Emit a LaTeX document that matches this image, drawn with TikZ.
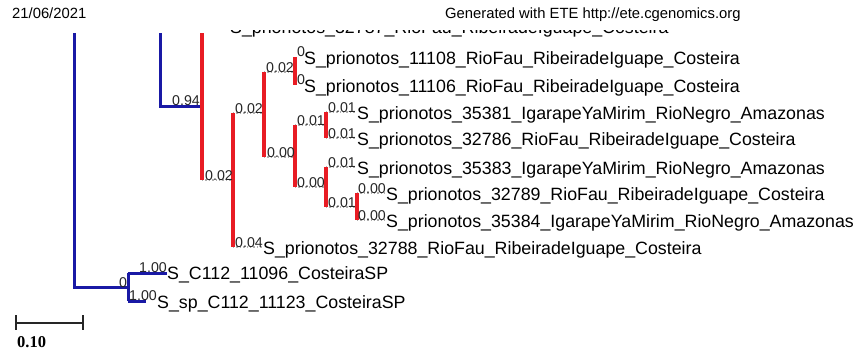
\documentclass[tikz,border=0pt]{standalone}
\usepackage{fontspec}
\setmainfont{Liberation Sans}
\newfontfamily\barfont{Liberation Serif}
\definecolor{navyline}{RGB}{25,25,165}
\definecolor{redline}{RGB}{232,28,36}
\definecolor{dotgray}{RGB}{175,175,175}
\begin{document}
\begin{tikzpicture}[x=1pt,y=-1pt,
  bluebranch/.style={draw=navyline,line width=3pt},
  redbranch/.style={draw=redline,line width=3.5pt},
  dotbranch/.style={draw=dotgray,dotted,line width=1.4pt},
  leaf/.style={anchor=base west,inner sep=0pt,font=\fontsize{17.8}{18}\selectfont},
  supp/.style={anchor=base west,inner sep=0pt,text=black!85,font=\fontsize{14.2}{14}\selectfont},
  head/.style={anchor=base west,inner sep=0pt,font=\fontsize{14.8}{15}\selectfont},
  scaleline/.style={draw=black!85,line width=2pt}]
\useasboundingbox (0,0) rectangle (857,356);

\node[head] (date) at (12,19) {21/06/2021};
\node[head] (gen) at (445,18) {Generated with ETE http://ete.cgenomics.org};

\begin{scope}
\clip (0,30.5) rectangle (857,356);
\node[leaf,text height=3pt] (leaf0) at (230,33) {S\_prionotos\_32787\_RioFau\_RibeiradeIguape\_Costeira};
\end{scope}

\coordinate (top74) at (74,33);
\coordinate (root) at (74,287);
\coordinate (c128) at (128,287);
\coordinate (u128) at (128,273);
\coordinate (d128) at (128,301);
\coordinate (tip9) at (167,273);
\coordinate (tip10) at (146,301);
\coordinate (top160) at (160,33);
\coordinate (a160) at (160,106);
\coordinate (a202) at (202,106);
\coordinate (top202) at (202,33);
\coordinate (b202) at (202,180);
\coordinate (m233) at (233,180);
\coordinate (u233) at (233,113);
\coordinate (d233) at (233,247);
\coordinate (tip8) at (262,247);
\coordinate (m264) at (264,113);
\coordinate (u264) at (264,72);
\coordinate (d264) at (264,157);
\coordinate (m295a) at (295,72);
\coordinate (m295b) at (295,157);
\coordinate (u295a) at (295,57);
\coordinate (d295a) at (295,85);
\coordinate (u295b) at (295,125);
\coordinate (d295b) at (295,187);
\coordinate (m326a) at (326,125);
\coordinate (m326b) at (326,187);
\coordinate (u326a) at (326,112);
\coordinate (d326a) at (326,138);
\coordinate (tip3) at (356,112);
\coordinate (tip4) at (356,138);
\coordinate (u326b) at (326,167);
\coordinate (d326b) at (326,207);
\coordinate (tip5) at (356,167);
\coordinate (m357) at (357,207);
\coordinate (u357) at (357,193);
\coordinate (d357) at (357,220);
\coordinate (tip6) at (385,193);
\coordinate (tip7) at (385,220);

\draw[dotbranch] (b202) -- (m233);
\draw[dotbranch] (u233) -- (m264);
\draw[dotbranch] (d233) -- (tip8);
\draw[dotbranch] (u264) -- (m295a);
\draw[dotbranch] (d264) -- (m295b);
\draw[dotbranch] (u295b) -- (m326a);
\draw[dotbranch] (d295b) -- (m326b);
\draw[dotbranch] (u326a) -- (tip3);
\draw[dotbranch] (d326a) -- (tip4);
\draw[dotbranch] (u326b) -- (tip5);
\draw[dotbranch] (d326b) -- (m357);
\draw[dotbranch] (u357) -- (tip6);
\draw[dotbranch] (d357) -- (tip7);

\draw[bluebranch] (top74) -- (root) -- (c128);
\draw[bluebranch] (u128) -- (d128);
\draw[bluebranch] (u128) -- (tip9);
\draw[bluebranch] (d128) -- (tip10);
\draw[bluebranch] (top160) -- (a160) -- (a202);

\draw[redbranch] (top202) -- (b202);
\draw[redbranch] (u233) -- (d233);
\draw[redbranch] (u264) -- (d264);
\draw[redbranch] (u295a) -- (d295a);
\draw[redbranch] (u295b) -- (d295b);
\draw[redbranch] (u326a) -- (d326a);
\draw[redbranch] (u326b) -- (d326b);
\draw[redbranch] (u357) -- (d357);

\node[supp] (s94) at (172,105) {0.94};
\node[supp] (sroot) at (119,287) {0};
\node[supp] (s9) at (139,272) {1.00};
\node[supp] (s10) at (129,300) {1.00};
\node[supp] (sb202) at (205,180) {0.02};
\node[supp] (su233) at (235,113) {0.02};
\node[supp] (sd233) at (235,247) {0.04};
\node[supp] (su264) at (266,72) {0.02};
\node[supp] (sd264) at (267,157) {0.00};
\node[supp] (s1) at (297,56) {0};
\node[supp] (s2) at (297,84) {0};
\node[supp] (su295) at (297,125) {0.01};
\node[supp] (sd295) at (297,187) {0.00};
\node[supp] (s3) at (328,112) {0.01};
\node[supp] (s4) at (328,138) {0.01};
\node[supp] (s5) at (328,167) {0.01};
\node[supp] (sd326) at (328,207) {0.01};
\node[supp] (s6) at (358,193) {0.00};
\node[supp] (s7) at (358,220) {0.00};

\node[leaf] (leaf1) at (304,64) {S\_prionotos\_11108\_RioFau\_RibeiradeIguape\_Costeira};
\node[leaf] (leaf2) at (304,92) {S\_prionotos\_11106\_RioFau\_RibeiradeIguape\_Costeira};
\node[leaf] (leaf3) at (357,119) {S\_prionotos\_35381\_IgarapeYaMirim\_RioNegro\_Amazonas};
\node[leaf] (leaf4) at (357,145) {S\_prionotos\_32786\_RioFau\_RibeiradeIguape\_Costeira};
\node[leaf] (leaf5) at (357,174) {S\_prionotos\_35383\_IgarapeYaMirim\_RioNegro\_Amazonas};
\node[leaf] (leaf6) at (386,200) {S\_prionotos\_32789\_RioFau\_RibeiradeIguape\_Costeira};
\node[leaf] (leaf7) at (386,227) {S\_prionotos\_35384\_IgarapeYaMirim\_RioNegro\_Amazonas};
\node[leaf] (leaf8) at (263,254) {S\_prionotos\_32788\_RioFau\_RibeiradeIguape\_Costeira};
\node[leaf] (leaf9) at (167,279) {S\_C112\_11096\_CosteiraSP};
\node[leaf] (leaf10) at (157,308) {S\_sp\_C112\_11123\_CosteiraSP};

\coordinate (sbl) at (16,323);
\coordinate (sbr) at (83,323);
\draw[scaleline] (sbl) -- (sbr);
\draw[scaleline] ([yshift=8pt]sbl) -- ([yshift=-7pt]sbl);
\draw[scaleline] ([yshift=8pt]sbr) -- ([yshift=-7pt]sbr);
\node[anchor=base west,inner sep=0pt,font=\barfont\bfseries\fontsize{16.5}{17}\selectfont] (sbtext) at (17,347) {0.10};
\end{tikzpicture}
\end{document}
